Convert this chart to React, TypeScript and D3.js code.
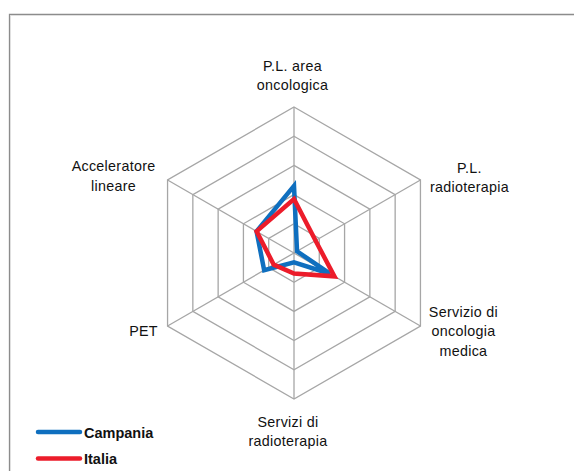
import React from "react";
import * as d3 from "d3";

// axes of the radar, clockwise from the top
const axes = [
  ["P.L. area", "oncologica"],
  ["P.L.", "radioterapia"],
  ["Servizio di", "oncologia", "medica"],
  ["Servizi di", "radioterapia"],
  ["PET"],
  ["Acceleratore", "lineare"],
];

const campania = [2.3, 0.12, 1.42, 0.32, 1.18, 1.48];
const italia = [1.85, 0.85, 1.6, 0.7, 0.8, 1.48];

const levels = [1, 2, 3, 4, 5];

const series = [
  { name: "Campania", values: campania, color: "#0f6fbf" },
  { name: "Italia", values: italia, color: "#ec1c2a" },
];

// label placement relative to the outer vertex of each axis
const labelOffsets = [
  [-1.5, -31.5],
  [49, -2.5],
  [43, 5],
  [-6, 32.5],
  [-24, 5],
  [-54, -4],
];

const W = 574,
  H = 471;
const cx = 294,
  cy = 253,
  R = 146;

const App = () => {
  const r = d3.scaleLinear().domain([0, 5]).range([0, R]);
  const angle = d3
    .scaleLinear()
    .domain([0, axes.length])
    .range([0, 2 * Math.PI]);

  const radial = d3
    .lineRadial<number>()
    .angle((d, i) => angle(i))
    .radius((d) => r(d))
    .curve(d3.curveLinearClosed);

  const point = (i: number, v: number) => {
    const a = angle(i);
    return [Math.sin(a) * r(v), -Math.cos(a) * r(v)];
  };

  const font = "'Liberation Sans', Arial, sans-serif";

  return (
    <svg
      width={W}
      height={H}
      style={{ position: "absolute", left: 0, top: 0, background: "#fff" }}
    >
      {/* frame */}
      <path d={`M9.5,${H} V14.5 H${W}`} fill="none" stroke="#8c8c8c" strokeWidth={1.3} />
      <path d={`M10.5,${H} V15.5 H${W}`} fill="none" stroke="#e0e0e0" strokeWidth={1} />

      <g transform={`translate(${cx},${cy})`}>
        {levels.map((l) => (
          <path
            key={l}
            d={radial(axes.map(() => l)) || ""}
            fill="none"
            stroke="#a6a6a6"
            strokeWidth={1.3}
          />
        ))}
        {axes.map((a, i) => {
          const [x, y] = point(i, 5);
          return (
            <line key={i} x1={0} y1={0} x2={x} y2={y} stroke="#a6a6a6" strokeWidth={1.3} />
          );
        })}
        {series.map((s) => (
          <path
            key={s.name}
            d={radial(s.values) || ""}
            fill="none"
            stroke={s.color}
            strokeWidth={4.5}
            strokeLinejoin="miter"
          />
        ))}
        {axes.map((lines, i) => {
          const [x, y] = point(i, 5);
          const [dx, dy] = labelOffsets[i];
          const lh = 19.5;
          const y0 = y + dy - ((lines.length - 1) * lh) / 2;
          return (
            <text
              key={i}
              textAnchor="middle"
              fontFamily={font}
              fontSize={14.3}
              letterSpacing={0.3}
              fill="#111"
            >
              {lines.map((t, j) => (
                <tspan key={j} x={x + dx} y={y0 + j * lh + 5}>
                  {t}
                </tspan>
              ))}
            </text>
          );
        })}
      </g>

      {/* legend */}
      {series.map((s, i) => {
        const y = 432 + i * 26.5;
        return (
          <g key={s.name}>
            <line
              x1={38}
              x2={80}
              y1={y}
              y2={y}
              stroke={s.color}
              strokeWidth={4.5}
              strokeLinecap="round"
            />
            <text
              x={84}
              y={y + 5.5}
              fontFamily={font}
              fontSize={14.5}
              fontWeight="bold"
              fill="#111"
            >
              {s.name}
            </text>
          </g>
        );
      })}
    </svg>
  );
};

export default App;
